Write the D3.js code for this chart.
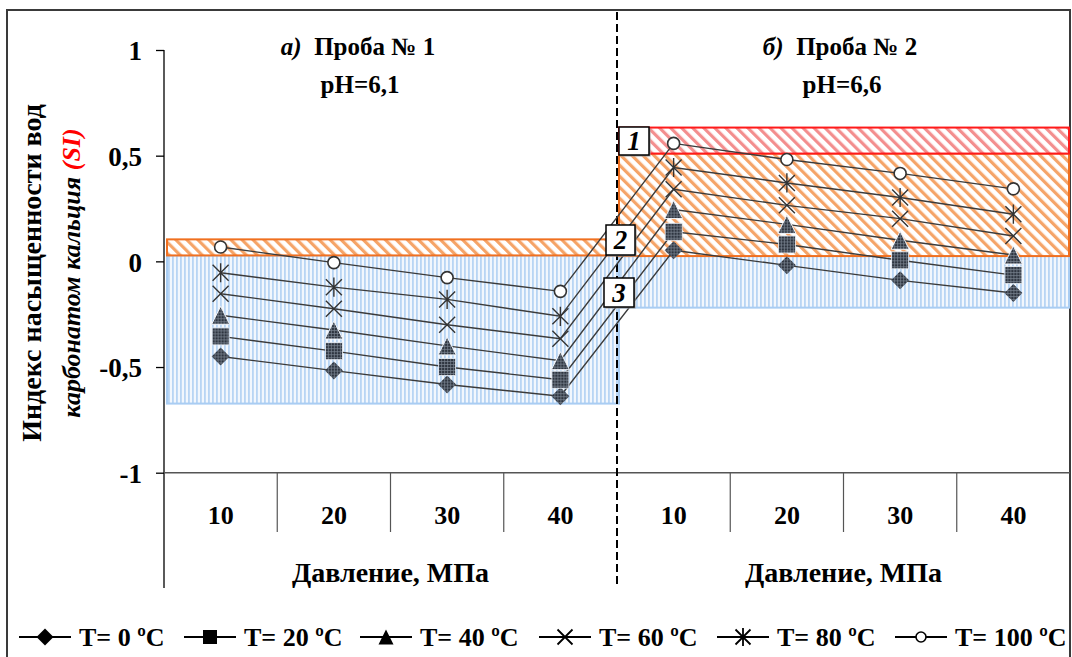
<!DOCTYPE html>
<html>
<head>
<meta charset="utf-8">
<script src="https://cdn.jsdelivr.net/npm/d3@7"></script>
<style>
  body { margin: 0; background: #fff; }
  svg text { font-family: "Liberation Serif", Tinos, "Times New Roman", Times, "DejaVu Serif", serif; font-weight: bold; fill: #000; }
</style>
</head>
<body>
<svg id="chart" width="1072" height="657"></svg>
<script>
// categories (two samples, 4 pressures each)
var pressures = ['10', '20', '30', '40', '10', '20', '30', '40'];
var temps = ['T= 0 ºC', 'T= 20 ºC', 'T= 40 ºC', 'T= 60 ºC', 'T= 80 ºC', 'T= 100 ºC'];
var markers = ['diamond', 'square', 'triangle', 'cross', 'asterisk', 'circle'];

// SI values, left 4 = проба 1, right 4 = проба 2
var si_t0   = [-0.45, -0.517, -0.583, -0.638, 0.052, -0.019, -0.09, -0.15];
var si_t20  = [-0.355, -0.425, -0.50, -0.56, 0.14, 0.08, 0.005, -0.065];
var si_t40  = [-0.255, -0.325, -0.40, -0.47, 0.245, 0.175, 0.10, 0.03];
var si_t60  = [-0.153, -0.224, -0.30, -0.366, 0.341, 0.265, 0.202, 0.12];
var si_t80  = [-0.054, -0.122, -0.18, -0.26, 0.444, 0.371, 0.302, 0.223];
var si_t100 = [0.068, -0.006, -0.077, -0.142, 0.558, 0.482, 0.416, 0.343];
var series = [si_t0, si_t20, si_t40, si_t60, si_t80, si_t100];

// zones: [lo, hi] for each panel
var zoneLeftOrange = [0.028, 0.104];
var zoneLeftBlue = [-0.673, 0.028];
var zoneRightRed = [0.51, 0.633];
var zoneRightOrange = [0.025, 0.51];
var zoneRightBlue = [-0.219, 0.025];

var yTicks = [-1, -0.5, 0, 0.5, 1];
var panelTitles = ['Проба № 1', 'Проба № 2'];
var panelLetters = ['а)', 'б)'];
var panelPH = ['pH=6,1', 'pH=6,6'];
var boxLabels = ['1', '2', '3'];

var svg = d3.select('#chart');
var defs = svg.append('defs');

var x = d3.scaleBand().domain(d3.range(pressures.length)).range([164, 1070]).padding(0);
var y = d3.scaleLinear().domain([-1, 1]).range([472.7, 50]);
var cx = function (i) { return x(i) + x.bandwidth() / 2; };

// hatch patterns
function diagPattern(id, color) {
  var p = defs.append('pattern').attr('id', id)
    .attr('patternUnits', 'userSpaceOnUse')
    .attr('width', 7.8).attr('height', 7.8)
    .attr('patternTransform', 'rotate(-45)');
  p.append('rect').attr('width', 7.8).attr('height', 7.8).attr('fill', '#fff');
  p.append('rect').attr('x', 0).attr('width', 3.2).attr('height', 7.8).attr('fill', color);
}
diagPattern('hatchOrange', '#f5a468');
diagPattern('hatchRed', '#f38e8e');

var pb = defs.append('pattern').attr('id', 'hatchBlue')
  .attr('patternUnits', 'userSpaceOnUse').attr('width', 4).attr('height', 4);
pb.append('rect').attr('width', 4).attr('height', 4).attr('fill', '#f2f7fd');
pb.append('rect').attr('width', 1.8).attr('height', 4).attr('fill', '#b8d5f4');

var pm = defs.append('pattern').attr('id', 'markFill')
  .attr('patternUnits', 'userSpaceOnUse').attr('width', 3).attr('height', 3);
pm.append('rect').attr('width', 3).attr('height', 3).attr('fill', '#2e3540');
pm.append('path').attr('d', 'M0 0.5H3M0.5 0V3').attr('stroke', '#7d8694').attr('stroke-width', 0.7);

// outer frame
svg.append('rect').attr('x', 7).attr('y', 10).attr('width', 1063).attr('height', 700)
  .attr('fill', 'none').attr('stroke', '#3a3a3a').attr('stroke-width', 2);

// zones
var leftX0 = x(0) + 3, leftX1 = x(3) + x.bandwidth() + 2;
var rightX0 = leftX1, rightX1 = x(7) + x.bandwidth() - 1;
function zone(x0, x1, z, fill, stroke) {
  svg.append('rect')
    .attr('x', x0).attr('y', y(z[1]))
    .attr('width', x1 - x0).attr('height', y(z[0]) - y(z[1]))
    .attr('fill', 'url(#' + fill + ')')
    .attr('stroke', stroke).attr('stroke-width', 2);
}
zone(leftX0, leftX1, zoneLeftBlue, 'hatchBlue', '#a9cdf3');
zone(rightX0, rightX1, zoneRightBlue, 'hatchBlue', '#a9cdf3');
zone(leftX0, leftX1, zoneLeftOrange, 'hatchOrange', '#f07020');
zone(rightX0, rightX1, zoneRightOrange, 'hatchOrange', '#f07020');
zone(rightX0, rightX1, zoneRightRed, 'hatchRed', '#ff1a1a');

// y axis
var yAxis = d3.axisLeft(y).tickValues(yTicks).tickSize(8).tickSizeOuter(0).tickPadding(14)
  .tickFormat(function (d) { return String(d).replace('.', ','); });
var gy = svg.append('g').attr('transform', 'translate(164,0)').call(yAxis);
gy.select('.domain').remove();
gy.attr('font-family', null);
gy.selectAll('line').attr('stroke', '#000').attr('stroke-width', 1.3);
gy.selectAll('text').attr('font-size', 27).attr('dy', '0.36em');
svg.append('line').attr('x1', 164).attr('x2', 164).attr('y1', y(1)).attr('y2', 588)
  .attr('stroke', '#000').attr('stroke-width', 1.3);

// x axis (multi level)
svg.append('line').attr('x1', 164).attr('x2', 1070).attr('y1', y(-1)).attr('y2', y(-1))
  .attr('stroke', '#555').attr('stroke-width', 1.5);
[1, 2, 3, 5, 6, 7].forEach(function (i) {
  svg.append('line').attr('x1', x(i)).attr('x2', x(i)).attr('y1', y(-1)).attr('y2', 532)
    .attr('stroke', '#555').attr('stroke-width', 1.2);
});
svg.selectAll('.cat').data(pressures).enter().append('text')
  .attr('x', function (d, i) { return cx(i); })
  .attr('y', 524)
  .attr('text-anchor', 'middle').attr('font-size', 26)
  .text(function (d) { return d; });
[[x(0), x(3) + x.bandwidth()], [x(4), x(7) + x.bandwidth()]].forEach(function (r) {
  svg.append('text').attr('x', (r[0] + r[1]) / 2).attr('y', 582)
    .attr('text-anchor', 'middle').attr('font-size', 28).text('Давление, МПа');
});

// dashed divider
svg.append('line').attr('x1', x(4)).attr('x2', x(4)).attr('y1', 12).attr('y2', 588)
  .attr('stroke', '#000').attr('stroke-width', 2).attr('stroke-dasharray', '8,4');

// series lines
var line = d3.line().x(function (d, i) { return cx(i); }).y(function (d) { return y(d); });
series.forEach(function (s) {
  svg.append('path').datum(s).attr('d', line)
    .attr('fill', 'none').attr('stroke', '#3b3b3b').attr('stroke-width', 1.4);
});

// markers
function drawMarker(g, type, sz, solid) {
  var fill = solid ? '#000' : 'url(#markFill)';
  if (type === 'diamond') {
    var d = sz / 2;
    g.append('path').attr('d', 'M0,' + -d + 'L' + d + ',0L0,' + d + 'L' + -d + ',0Z').attr('fill', fill);
  } else if (type === 'square') {
    g.append('rect').attr('x', -sz / 2).attr('y', -sz / 2).attr('width', sz).attr('height', sz)
      .attr('fill', fill).attr('stroke', solid ? 'none' : '#e8eef6').attr('stroke-width', 0.8);
  } else if (type === 'triangle') {
    g.append('path').attr('d', 'M0,' + (-sz / 2) + 'L' + (sz / 2) + ',' + (sz / 2) + 'L' + (-sz / 2) + ',' + (sz / 2) + 'Z')
      .attr('fill', fill).attr('stroke', solid ? 'none' : '#f2f5fa').attr('stroke-width', 1);
  } else if (type === 'cross') {
    var h = sz / 2;
    g.append('path').attr('d', 'M' + -h + ',' + -h + 'L' + h + ',' + h + 'M' + -h + ',' + h + 'L' + h + ',' + -h)
      .attr('stroke', solid ? '#000' : '#333').attr('stroke-width', solid ? 1.8 : 1.4);
  } else if (type === 'asterisk') {
    var a = sz / 2;
    g.append('path').attr('d', 'M' + -a + ',' + -a + 'L' + a + ',' + a + 'M' + -a + ',' + a + 'L' + a + ',' + -a + 'M0,' + (-a * 1.2) + 'V' + (a * 1.2))
      .attr('stroke', solid ? '#000' : '#333').attr('stroke-width', solid ? 1.8 : 1.4);
  } else {
    g.append('circle').attr('r', sz / 2).attr('fill', '#fff')
      .attr('stroke', solid ? '#000' : '#333').attr('stroke-width', 1.6);
  }
}

var markerSize = [18, 17, 18, 16, 16, 12];
series.forEach(function (s, k) {
  s.forEach(function (v, i) {
    var g = svg.append('g').attr('transform', 'translate(' + cx(i) + ',' + y(v) + ')');
    drawMarker(g, markers[k], markerSize[k], false);
  });
});

// numbered boxes
var boxes = [
  { x: 619, y: 127, w: 30, h: 28 },
  { x: 606, y: 225, w: 29, h: 30 },
  { x: 604, y: 278, w: 30, h: 29 }
];
boxes.forEach(function (b, i) {
  svg.append('rect').attr('x', b.x + 1.5).attr('y', b.y + 1.5).attr('width', b.w).attr('height', b.h)
    .attr('fill', '#999');
  svg.append('rect').attr('x', b.x).attr('y', b.y).attr('width', b.w).attr('height', b.h)
    .attr('fill', '#fff').attr('stroke', '#000').attr('stroke-width', 1.5);
  svg.append('text').attr('x', b.x + b.w / 2).attr('y', b.y + b.h / 2 + 9)
    .attr('text-anchor', 'middle').attr('font-size', 27).attr('font-style', 'italic')
    .text(boxLabels[i]);
});

// panel titles
var titleX = [358, 840];
titleX.forEach(function (tx, i) {
  var t = svg.append('text').attr('x', tx).attr('y', 55).attr('text-anchor', 'middle').attr('font-size', 25);
  t.append('tspan').attr('font-style', 'italic').text(panelLetters[i]);
  t.append('tspan').text('\u00a0 ' + panelTitles[i]);
  svg.append('text').attr('x', tx + 2).attr('y', 93).attr('text-anchor', 'middle').attr('font-size', 25)
    .text(panelPH[i]);
});

// y axis title
var yt = svg.append('g').attr('transform', 'translate(32,273) rotate(-90)');
yt.append('text').attr('text-anchor', 'middle').attr('y', 9).attr('font-size', 28)
  .text('Индекс насыщенности вод');
var yt2 = yt.append('text').attr('text-anchor', 'middle').attr('y', 48).attr('font-size', 26).attr('font-style', 'italic');
yt2.append('tspan').text('карбонатом кальция ');
yt2.append('tspan').attr('fill', '#ff0000').text('(SI)');

// legend
var legX = [19, 184, 360, 539, 717, 895];
var legY = 637;
temps.forEach(function (t, k) {
  var g = svg.append('g').attr('transform', 'translate(' + legX[k] + ',' + legY + ')');
  g.append('line').attr('x1', 0).attr('x2', 52).attr('y1', 0).attr('y2', 0)
    .attr('stroke', '#000').attr('stroke-width', 2);
  var m = g.append('g').attr('transform', 'translate(26,0)');
  drawMarker(m, markers[k], [17, 14, 15, 15, 15, 10][k], true);
  g.append('text').attr('x', 60).attr('y', 9).attr('font-size', 26).text(t);
});
</script>
</body>
</html>
